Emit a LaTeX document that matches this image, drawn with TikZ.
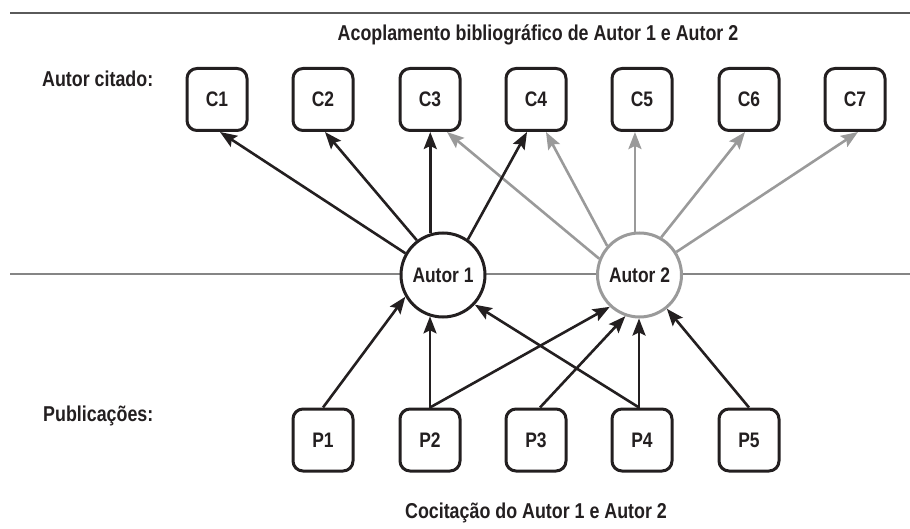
\documentclass[tikz,border=0pt]{standalone}
\usepackage{fontspec}
\setmainfont{Liberation Sans}[FakeStretch=0.83,BoldFont={Liberation Sans Bold}]
\usetikzlibrary{arrows.meta}
\definecolor{ink}{HTML}{231F20}
\definecolor{grayA}{HTML}{9A9A9A}
\definecolor{rule}{HTML}{858585}
\definecolor{toprule}{HTML}{5A5A5A}
\tikzset{
  cbox/.style={draw=ink,line width=3pt,rounded corners=10pt,fill=white,minimum width=60pt,minimum height=62pt,inner sep=0pt,font=\fontsize{21}{24}\selectfont\bfseries,text=ink},
  autor/.style={circle,line width=3pt,fill=white,minimum size=84pt,inner sep=0pt,font=\fontsize{21}{24}\selectfont\bfseries,text=ink},
  lbl/.style={font=\fontsize{21.5}{25}\selectfont\bfseries,text=ink,inner sep=0pt},
  blk/.style={draw=ink,line width=2.6pt,-{Stealth[length=17pt,width=13pt,inset=3pt]}},
  gry/.style={draw=grayA,line width=2.6pt,-{Stealth[length=17pt,width=13pt,inset=3pt]}},
}
\begin{document}
\begin{tikzpicture}[x=1pt,y=-1pt]
\useasboundingbox (0,0) rectangle (910,529);
% rules
\coordinate (T1) at (10,13);
\coordinate (T2) at (910,13);
\coordinate (M1) at (10,274);
\coordinate (M2) at (910,274);
\draw[toprule,line width=2pt] (T1) -- (T2);
\draw[rule,line width=1.6pt] (M1) -- (M2);
% texts
\node[lbl] (title) at (538,35) {Acoplamento bibliográfico de Autor 1 e Autor 2};
\node[lbl,anchor=west] (ac) at (42,79) {Autor citado:};
\node[lbl,anchor=west] (pub) at (43,416) {Publicações:};
\node[lbl] (cap) at (536,513) {Cocitação do Autor 1 e Autor 2};
% cited boxes
\node[cbox] (C1) at (217,99.5) {C1};
\node[cbox] (C2) at (323,99.5) {C2};
\node[cbox] (C3) at (430,99.5) {C3};
\node[cbox] (C4) at (536,99.5) {C4};
\node[cbox] (C5) at (642,99.5) {C5};
\node[cbox] (C6) at (749,99.5) {C6};
\node[cbox] (C7) at (855,99.5) {C7};
% publications
\node[cbox] (P1) at (323,440) {P1};
\node[cbox] (P2) at (430,440) {P2};
\node[cbox] (P3) at (536,440) {P3};
\node[cbox] (P4) at (642,440) {P4};
\node[cbox] (P5) at (749,440) {P5};
% authors
\node[autor,draw=ink] (A1) at (443,275) {Autor 1};
\node[autor,draw=grayA] (A2) at (639.5,275) {Autor 2};
% Autor 2 -> cited (gray)
\draw[gry] (A2.158) -- ([xshift=17pt]C3.south);
\draw[gry] (A2.138) -- ([xshift=10pt]C4.south);
\draw[gry] (A2.96.8) -- (A2.96.8 |- C5.south);
\draw[gry] (A2.60) -- ([xshift=-4pt]C6.south);
\draw[gry] (A2.32) -- ([xshift=3pt]C7.south);
% Autor 1 -> cited (black)
\draw[blk] (A1.150) -- ([xshift=3pt]C1.south);
\draw[blk] (A1.127) -- ([xshift=2pt]C2.south);
\draw[blk] (A1.107.6) -- (A1.107.6 |- C3.south);
\draw[blk] (A1.55) -- ([xshift=-9pt]C4.south);
% publications -> authors
\draw[blk] (P1.north) -- (A1.210);
\draw[blk] (P2.north) -- (P2.north |- A1.252.4);
\draw[blk] (P2.north) -- (A2.227);
\draw[blk] ([xshift=4pt]P3.north) -- (A2.251);
\draw[blk] ([xshift=-3pt]P4.north) -- (A1.317);
\draw[blk] ([xshift=-3pt]P4.north) -- ([xshift=-3pt]P4.north |- A2.268);
\draw[blk] (P5.north) -- (A2.309);
\end{tikzpicture}
\end{document}
